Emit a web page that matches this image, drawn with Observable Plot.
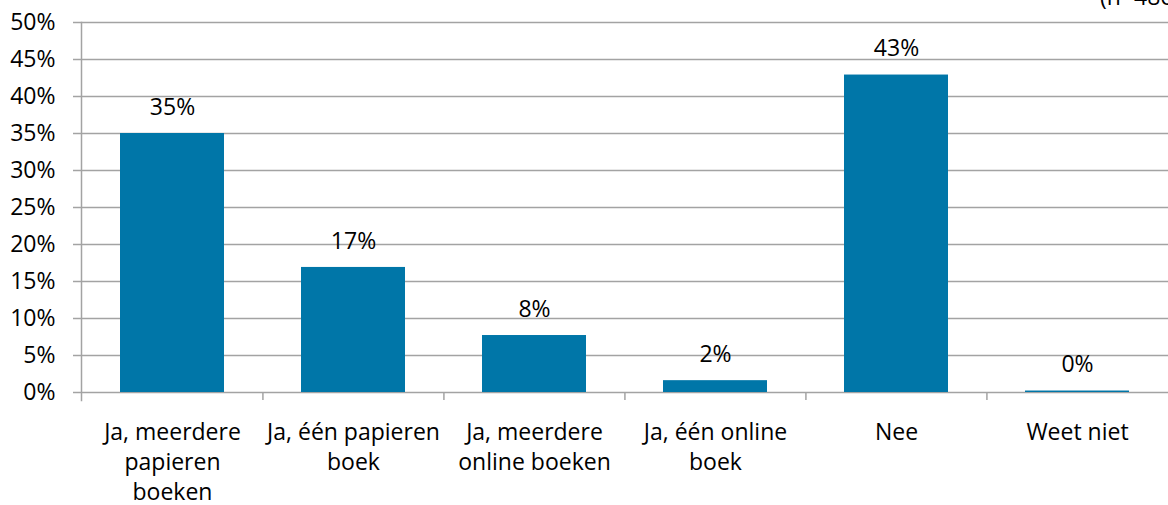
<!DOCTYPE html>
<html>
<head>
<meta charset="utf-8">
<script src="https://cdn.jsdelivr.net/npm/d3@7"></script>
<script src="https://cdn.jsdelivr.net/npm/@observablehq/plot@0.6"></script>
<style>
  html, body { margin: 0; padding: 0; background: #fff; overflow: hidden; }
  #wrap { position: relative; width: 1168px; height: 505px; }
  #note { position: absolute; left: 1100px; top: -15px; font: 23px "Open Sans", sans-serif; line-height: 23px; color: #000; white-space: nowrap; }
  svg { display: block; }
</style>
</head>
<body>
<div id="wrap"><div id="note">(n=486)</div><div id="chart"></div></div>
<script>
const categories = [
  "Ja, meerdere\npapieren\nboeken",
  "Ja, één papieren\nboek",
  "Ja, meerdere\nonline boeken",
  "Ja, één online\nboek",
  "Nee",
  "Weet niet"
];
const values = [35, 16.9, 7.7, 1.6, 42.9, 0.2];
const yTicks = [0, 5, 10, 15, 20, 25, 30, 35, 40, 45, 50];

const data = categories.map((c, i) => ({cat: c, value: values[i]}));

const W = 1168, H = 505, ML = 81, MR = 0, MT = 22, MB = 113;
const step = (W - ML - MR) / categories.length;
const font = "Open Sans, sans-serif";
const grid = "#a3a3a3";

const chart = Plot.plot({
  width: W, height: H,
  marginLeft: ML, marginRight: MR, marginTop: MT, marginBottom: MB,
  style: {fontFamily: font, fontSize: "23px", color: "#000", background: "#fff"},
  x: {domain: categories, paddingInner: 0.426, paddingOuter: 0.213, label: null},
  y: {domain: [0, 50], label: null},
  marks: [
    Plot.ruleY(yTicks, {y: d => d, stroke: grid, strokeWidth: 1.5, insetLeft: -8}),
    Plot.frame({anchor: "left", stroke: grid, strokeWidth: 1.5, insetBottom: -8}),
    Plot.ruleX(categories.slice(1), {x: d => d, y1: 0, y2: 0, insetBottom: -8, dx: -step / 2, stroke: grid, strokeWidth: 1.5}),
    Plot.barY(data, {x: "cat", y: "value", fill: "#0076a8"}),
    Plot.text(data, {x: "cat", y: "value", text: d => Math.round(d.value) + "%", dy: -26, fontSize: 23, fill: "#000"}),
    Plot.axisY({ticks: yTicks, tickFormat: d => d + "%", tickSize: 0, tickPadding: 26, fontSize: 23, label: null}),
    Plot.axisX({tickSize: 0, tickPadding: 26, lineHeight: 1.3, fontSize: 23, label: null})
  ]
});
document.getElementById("chart").appendChild(chart);
</script>
</body>
</html>
